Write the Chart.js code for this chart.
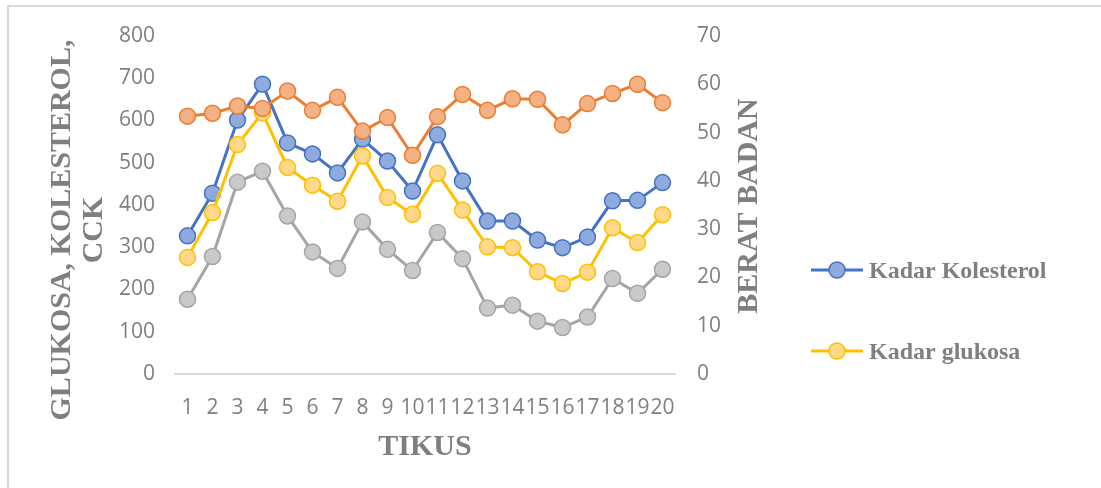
<!DOCTYPE html>
<html>
<head>
<meta charset="utf-8">
<script src="https://cdn.jsdelivr.net/npm/chart.js@4/dist/chart.umd.min.js"></script>
<style>
  html, body { margin: 0; padding: 0; background: #ffffff; }
  #wrap { width: 1101px; height: 488px; position: relative; }
</style>
</head>
<body>
<div id="wrap"><canvas id="c" width="1101" height="488"></canvas></div>
<script>
const categories = ['1','2','3','4','5','6','7','8','9','10','11','12','13','14','15','16','17','18','19','20'];
const kolesterol = [327, 428, 601, 686, 547, 521, 476, 556, 504, 433, 566, 457, 362, 362, 317, 299, 324, 410, 411, 453];
const glukosa    = [276, 382, 543, 618, 489, 447, 409, 516, 418, 378, 475, 388, 301, 299, 242, 214, 241, 346, 311, 377];
const cck        = [177, 278, 454, 480, 374, 289, 250, 360, 295, 245, 335, 273, 156, 163, 125, 110, 135, 226, 191, 248];
const beratBadan = [53.4, 54.0, 55.5, 55.0, 58.6, 54.6, 57.3, 50.3, 53.1, 45.3, 53.3, 57.9, 54.6, 57.0, 56.9, 51.6, 56.0, 58.1, 60.0, 56.2];

const seriesNames = ['Kadar Kolesterol', 'Berat Badan', 'Kadar CCK', 'Kadar glukosa'];
const legendNames = ['Kadar Kolesterol', 'Kadar glukosa'];
const leftAxisRange = [0, 800, 100];
const rightAxisRange = [0, 70, 10];
const leftTitle = ['GLUKOSA, KOLESTEROL,', 'CCK'];
const rightTitle = 'BERAT BADAN';
const xTitle = 'TIKUS';

const TXT = '#7f7f7f';
const TICKFONT = { family: '"Open Sans", sans-serif', size: 21 };
const SERIF = '"Liberation Serif", "Times New Roman", serif';

function ds(label, data, color, fill, axis, order) {
  return {
    label, data, yAxisID: axis, order,
    borderColor: color, backgroundColor: fill,
    borderWidth: 3, tension: 0,
    pointRadius: 8, pointHoverRadius: 8,
    pointBackgroundColor: fill, pointBorderColor: color, pointBorderWidth: 1.5
  };
}

const frame = {
  id: 'frame',
  beforeDraw(chart) {
    const ctx = chart.ctx;
    ctx.save();
    ctx.strokeStyle = '#d9d9d9';
    ctx.lineWidth = 2;
    ctx.strokeRect(8, 6, 1200, 600);
    ctx.restore();
  }
};

const titles = {
  id: 'titles',
  afterDraw(chart) {
    const ctx = chart.ctx;
    const area = chart.chartArea;
    ctx.save();
    ctx.fillStyle = TXT;
    ctx.font = 'bold 30px ' + SERIF;
    ctx.textAlign = 'center';
    ctx.textBaseline = 'alphabetic';
    ctx.save();
    ctx.translate(70, 230);
    ctx.rotate(-Math.PI / 2);
    ctx.fillText(leftTitle[0], 0, 0);
    ctx.fillText(leftTitle[1], 0, 32);
    ctx.restore();
    ctx.save();
    ctx.translate(757, 206);
    ctx.rotate(-Math.PI / 2);
    ctx.fillText(rightTitle, 0, 0);
    ctx.restore();
    ctx.fillText(xTitle, (area.left + area.right) / 2, 455);
    const items = [
      { name: legendNames[0], ds: chart.data.datasets[0], y: 270, base: 278 },
      { name: legendNames[1], ds: chart.data.datasets[3], y: 351, base: 359 }
    ];
    ctx.font = 'bold 24px ' + SERIF;
    ctx.textAlign = 'left';
    items.forEach(it => {
      ctx.strokeStyle = it.ds.borderColor;
      ctx.lineWidth = 3;
      ctx.beginPath();
      ctx.moveTo(811, it.y);
      ctx.lineTo(863, it.y);
      ctx.stroke();
      ctx.beginPath();
      ctx.arc(837, it.y, 8, 0, Math.PI * 2);
      ctx.fillStyle = it.ds.pointBackgroundColor;
      ctx.fill();
      ctx.lineWidth = 1.5;
      ctx.stroke();
      ctx.fillStyle = TXT;
      ctx.fillText(it.name, 869, it.base);
    });
    ctx.restore();
  }
};

new Chart(document.getElementById('c'), {
  type: 'line',
  data: {
    labels: categories,
    datasets: [
      ds(seriesNames[0], kolesterol, '#4472C4', '#8FAADC', 'y', 3),
      ds(seriesNames[1], beratBadan, '#ED7D31', '#F4B183', 'y1', 0),
      ds(seriesNames[2], cck, '#A5A5A5', '#C9C9C9', 'y', 2),
      ds(seriesNames[3], glukosa, '#FFC000', '#FFD88A', 'y', 1)
    ]
  },
  options: {
    responsive: false,
    animation: false,
    devicePixelRatio: 1,
    layout: { padding: { left: 0, right: 326, top: 36, bottom: 54 } },
    plugins: { legend: { display: false }, tooltip: { enabled: false }, title: { display: false } },
    scales: {
      x: {
        type: 'category',
        offset: true,
        grid: { display: true, drawOnChartArea: false, drawTicks: false, color: '#d9d9d9' },
        border: { display: true, color: '#d9d9d9', width: 2 },
        ticks: { color: TXT, font: TICKFONT, autoSkip: false, maxRotation: 0, minRotation: 0, padding: 21 },
        afterFit(s) { s.height = 60; }
      },
      y: {
        position: 'left',
        min: leftAxisRange[0], max: leftAxisRange[1],
        grid: { display: false, drawTicks: false },
        border: { display: false },
        ticks: { stepSize: leftAxisRange[2], color: TXT, font: TICKFONT, padding: 20 },
        afterFit(s) { s.width = 175; }
      },
      y1: {
        position: 'right',
        min: rightAxisRange[0], max: rightAxisRange[1],
        grid: { display: false, drawTicks: false },
        border: { display: false },
        ticks: { stepSize: rightAxisRange[2], color: TXT, font: TICKFONT, padding: 22 },
        afterFit(s) { s.width = 100; }
      }
    }
  },
  plugins: [frame, titles]
});
</script>
</body>
</html>
